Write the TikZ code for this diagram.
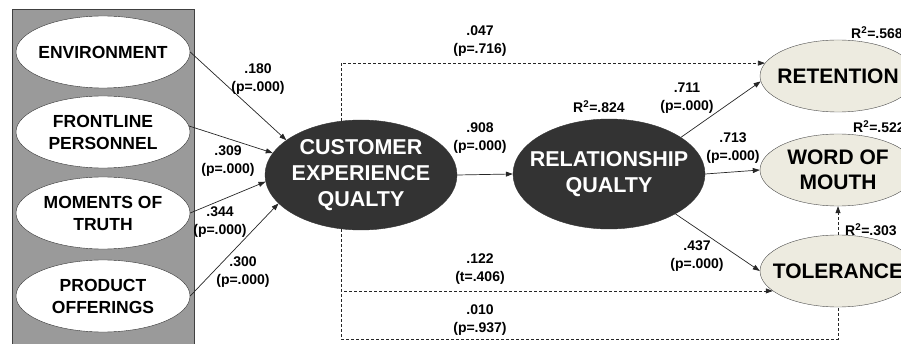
\documentclass[tikz,border=0pt]{standalone}
\usepackage{fontspec}
\setmainfont{Liberation Sans}
\usetikzlibrary{shapes.geometric,arrows.meta}

\definecolor{boxgray}{HTML}{9A9A9A}
\definecolor{latentdark}{HTML}{333333}
\definecolor{outcomefill}{HTML}{EDEBE0}

\tikzset{
  driver/.style={ellipse, draw=black!80, fill=white, inner sep=-30pt,
    minimum width=174pt, minimum height=72pt, align=center,
    font=\fontsize{17.5}{22}\selectfont\bfseries},
  latent/.style={ellipse, draw=black!80, fill=latentdark, text=white, inner sep=-40pt,
    minimum width=192pt, minimum height=110pt, align=center,
    font=\fontsize{21.5}{26}\selectfont\bfseries},
  outcome/.style={ellipse, draw=black!70, fill=outcomefill, inner sep=-30pt,
    minimum width=156pt, minimum height=72pt, align=center,
    font=\fontsize{21}{25}\selectfont\bfseries},
  coef/.style={align=center, inner sep=0pt, font=\fontsize{14}{18}\selectfont\bfseries},
  effect/.style={-{Triangle[length=7pt,width=5pt]}, line width=0.7pt, draw=black!85},
  weak/.style={effect, dash pattern=on 3pt off 2pt},
}

\begin{document}
\begin{tikzpicture}[x=1pt, y=-1pt]
    % 그림 영역
    \useasboundingbox (0,0) rectangle (901,344);
    \clip (0,0) rectangle (901,344);

    % Step 1: 회색 배경 상자
    \draw[fill=boxgray, draw=black!75] (12,9) rectangle (194,352);

    % Step 2: 선행 요인
    \node[driver] (env)     at (103,52)  {ENVIRONMENT};
    \node[driver] (front)   at (103,132) {FRONTLINE\\PERSONNEL};
    \node[driver] (moment)  at (103,213) {MOMENTS OF\\TRUTH};
    \node[driver] (product) at (103,296) {PRODUCT\\OFFERINGS};

    % Step 3: 매개 변수
    \node[latent] (ceq) at (361,175) {CUSTOMER\\EXPERIENCE\\QUALTY};
    \node[latent] (rq)  at (609,174) {RELATIONSHIP\\QUALTY};

    % Step 4: 결과 변수
    \node[outcome] (ret) at (838,76)  {RETENTION};
    \node[outcome] (wom) at (838,170) {WORD OF\\MOUTH};
    \node[outcome] (tol) at (838,271) {TOLERANCE};

    % 아래쪽 점선 높이
    \coordinate (lowline) at (0,339);

    % Step 5: 경로 (실선)
    \draw[effect] (env.east) -- (ceq.155);
    \draw[effect] (front.4) -- (ceq.166);
    \draw[effect] (moment.east) -- (ceq.184);
    \draw[effect] (product.east) -- (ceq.199);
    \draw[effect] (ceq.east) -- (rq.west);
    \draw[effect] (rq.27) -- (ret.184);
    \draw[effect] (rq.east) -- (wom.west);
    \draw[effect] (rq.329) -- (tol.west);

    % Step 6: 경로 (점선)
    \draw[weak] (ceq.110) |- (ret.170);
    \draw[weak] (ceq.250) |- (tol.197);
    \draw[weak, -] (ceq.250) -- (ceq.250 |- lowline) -| (tol.south);
    \draw[weak] (tol.north) -- (wom.south);

    % 경로 계수
    \foreach \lbl/\x/\y/\txt in {
        cenv/258/79/{.180\\(p=.000)},
        cfront/228/161/{.309\\(p=.000)},
        cmoment/220/222/{.344\\(p=.000)},
        cproduct/243/272/{.300\\(p=.000)},
        cceq/480/138/{.908\\(p=.000)},
        cret/480/41/{.047\\(p=.716)},
        ctol/480/269/{.122\\(t=.406)},
        clow/480/320/{.010\\(p=.937)},
        crqret/687/98/{.711\\(p=.000)},
        crqwom/733/148/{.713\\(p=.000)},
        crqtol/697/256/{.437\\(p=.000)}} {
        \node[coef] (\lbl) at (\x,\y) {\txt};
    }

    % 설명력
    \foreach \lbl/\x/\y/\val in {rsqrq/573/107/824, rsqret/851/33/568,
        rsqwom/853/127/522, rsqtol/845/230/303} {
        \node[coef, anchor=west] (\lbl) at (\x,\y) {R\textsuperscript{2}=.\val};
    }

\end{tikzpicture}
\end{document}
